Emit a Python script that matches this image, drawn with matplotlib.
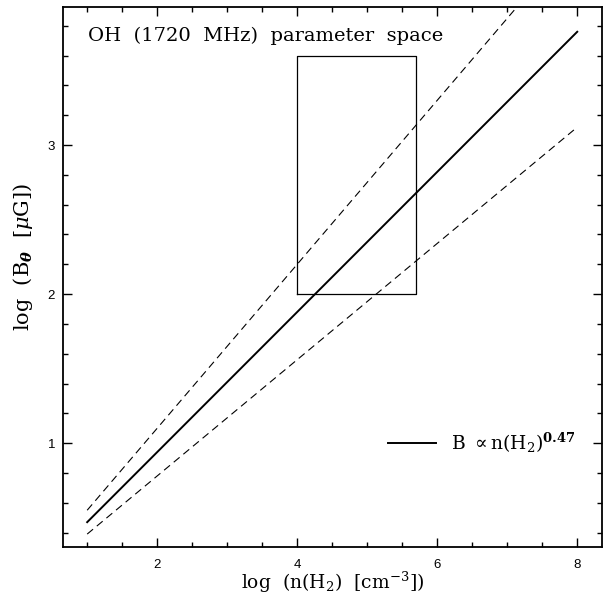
import matplotlib
matplotlib.use("Agg")
import matplotlib.pyplot as plt
from matplotlib.ticker import MultipleLocator

# log n(H2) range and slopes of the B-n relations
log_n = [1.0, 8.0]
k_fit = 0.47
k_hi = 0.55
k_lo = 0.39

# OH (1720 MHz) parameter box
box_n = [4.0, 5.7]
box_b = [2.0, 3.6]

plt.rcParams['font.family'] = ['DejaVu Serif']
plt.rcParams['mathtext.fontset'] = 'dejavuserif'
plt.rcParams['lines.scale_dashes'] = False

fig = plt.figure(figsize=(6.05, 6.05), dpi=100)
ax = fig.add_axes([0.1036, 0.0964, 0.891, 0.8916])

y_fit = [k_fit * v for v in log_n]
y_hi = [k_hi * v for v in log_n]
y_lo = [k_lo * v for v in log_n]

ax.plot(log_n, y_fit, color='black', lw=1.4, label=r'B $\propto$n(H$_2$)$^{\mathbf{0.47}}$')
ax.plot(log_n, y_hi, color='black', lw=0.8, dashes=(5.5, 3.5))
ax.plot(log_n, y_lo, color='black', lw=0.8, dashes=(5.5, 3.5))

bx = [box_n[0], box_n[1], box_n[1], box_n[0], box_n[0]]
by = [box_b[0], box_b[0], box_b[1], box_b[1], box_b[0]]
ax.plot(bx, by, color='black', lw=0.9)

# limits: 5% padding around the fit line
span_x = log_n[1] - log_n[0]
span_y = y_fit[1] - y_fit[0]
ax.set_xlim(log_n[0] - 0.05 * span_x, log_n[1] + 0.05 * span_x)
ax.set_ylim(y_fit[0] - 0.05 * span_y, y_fit[1] + 0.05 * span_y)

ax.xaxis.set_major_locator(MultipleLocator(2))
ax.xaxis.set_minor_locator(MultipleLocator(0.5))
ax.yaxis.set_major_locator(MultipleLocator(1))
ax.yaxis.set_minor_locator(MultipleLocator(0.2))
ax.tick_params(which='both', direction='in', top=True, right=True, width=1.0)
ax.tick_params(which='major', length=6.5, labelsize=9.5)
ax.tick_params(axis='x', which='major', pad=9)
ax.tick_params(axis='y', which='major', pad=5.5)
ax.tick_params(which='minor', length=3.5)
for lab in ax.get_xticklabels() + ax.get_yticklabels():
    lab.set_family('Liberation Sans')
for sp in ax.spines.values():
    sp.set_linewidth(1.3)

ax.set_xlabel(r'log  (n(H$_2$)  [cm$^{-3}$])', fontsize=13.5, va='baseline')
ax.xaxis.set_label_coords(0.5, -0.079)
ax.set_ylabel(r'log  (B$_{\boldsymbol{\theta}}$  [$\mu$G])', fontsize=15, va='center')
ax.yaxis.set_label_coords(-0.074, 0.537)

ax.text(0.047, 0.9375, 'OH  (1720  MHz)  parameter  space', transform=ax.transAxes,
        fontsize=14, va='baseline', ha='left')

ax.legend(loc='center left', bbox_to_anchor=(0.603, 0.192), frameon=False,
          fontsize=13.5, handlelength=2.6, handletextpad=0.8,
          borderpad=0, borderaxespad=0)

fig.savefig('out.png', dpi=100)
